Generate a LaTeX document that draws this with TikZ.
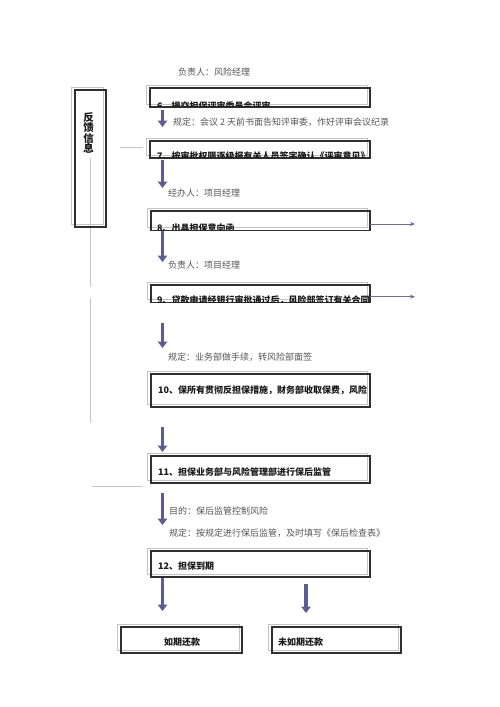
\documentclass[tikz,border=0pt]{standalone}
\usepackage{fontspec}
\setmainfont{Noto Sans CJK SC}
\usetikzlibrary{arrows.meta,calc}
\pgfdeclarelayer{background}
\pgfsetlayers{background,main}
\definecolor{arrowc}{HTML}{5C5C96}
\definecolor{thinc}{HTML}{6A6AA6}
\definecolor{linec}{HTML}{C4C4DC}
\definecolor{lightc}{HTML}{C4C4C4}
\definecolor{boxc}{HTML}{303030}
\definecolor{annc}{HTML}{555555}
\definecolor{txtc}{HTML}{1A1A1A}
\newcommand\lightframe[1]{\draw[lightbox] ([xshift=-4pt,yshift=3pt]#1.south west) rectangle ([xshift=-3pt,yshift=3pt]#1.north east);}
\begin{document}
\begin{tikzpicture}[x=1pt,y=-1pt,
  darkbox/.style={draw=boxc, line width=1.1pt, rectangle, outer sep=0pt, inner sep=0pt},
  lightbox/.style={draw=lightc, line width=0.7pt},
  ann/.style={anchor=west, inner sep=0pt, text=annc, font=\fontsize{9}{10}\selectfont},
  boxtext/.style={anchor=west, inner sep=0pt, text=txtc, font=\bfseries\fontsize{9}{10}\selectfont},
  cliptext/.style={anchor=base west, inner sep=0pt, text=txtc, font=\bfseries\fontsize{9}{10}\selectfont},
  bigarrow/.style={draw=arrowc, line width=3.5pt, -{Triangle[width=9.5pt,length=6.5pt]}},
  thinarrow/.style={draw=thinc, line width=0.8pt, -{Stealth[width=4pt,length=5pt]}},
  feedline/.style={draw=linec, line width=0.7pt}]
\useasboundingbox (0,0) rectangle (500,707);

% column for arrows
\coordinate (colx) at (162.5,0);
\coordinate (colr) at (306,0);

% boxes
\node[darkbox, minimum width=31pt, minimum height=137pt] (fb) at (90.5,158.5) {};
\node[darkbox, minimum width=220pt, minimum height=19pt] (b6) at (260,97.5) {};
\node[darkbox, minimum width=220pt, minimum height=17pt] (b7) at (260,149.5) {};
\node[darkbox, minimum width=219pt, minimum height=19.5pt] (b8) at (260.5,220.75) {};
\node[darkbox, minimum width=219pt, minimum height=17.7pt] (b9) at (260.5,293.85) {};
\node[darkbox, minimum width=219pt, minimum height=33pt] (b10) at (260.5,390.5) {};
\node[darkbox, minimum width=219pt, minimum height=27pt] (b11) at (260.5,469.5) {};
\node[darkbox, minimum width=219pt, minimum height=26pt] (b12) at (260.5,564) {};
\node[darkbox, minimum width=121pt, minimum height=26pt] (b13) at (181.5,640) {};
\node[darkbox, minimum width=129pt, minimum height=26pt] (b14) at (336.5,640) {};

\begin{pgfonlayer}{background}
\fill[white] (0,0) rectangle (500,707);
\lightframe{fb}
\lightframe{b6}
\lightframe{b7}
\lightframe{b8}
\lightframe{b9}
\lightframe{b10}
\lightframe{b11}
\lightframe{b12}
\lightframe{b13}
\lightframe{b14}
% feedback lines
\draw[feedline] (90.7,158) -- (90.7,287);
\draw[feedline] (90.7,298) -- (90.7,423);
\draw[feedline] (120,147) -- (143,147);
\draw[feedline] (92,486) -- (143,486);
\end{pgfonlayer}

% feedback text
\node[inner sep=0pt, align=center, text=txtc, font=\bfseries\fontsize{10.5}{10.5}\selectfont] (t0) at (88.5,133) {反\\馈\\信\\息};

% top annotation
\node[ann] (n0) at (178,72) {负责人：风险经理};

% clipped box texts
\begin{scope}
\clip ([yshift=0.6pt]b6.south west) rectangle (b6.north east);
\node[cliptext] (t6) at (157,109.5) {6、提交担保评审委员会评审};
\end{scope}
\begin{scope}
\clip ([yshift=0.6pt]b7.south west) rectangle (b7.north east);
\node[cliptext] (t7) at (157,159.6) {7、按审批权限逐级报有关人员签字确认《评审意见》};
\end{scope}
\begin{scope}
\clip ([yshift=0.6pt]b8.south west) rectangle (b8.north east);
\node[cliptext] (t8) at (157,231) {8、出具担保意向函};
\end{scope}
\begin{scope}
\clip ([yshift=0.6pt]b9.south west) rectangle (b9.north east);
\node[cliptext] (t9) at (157,303.5) {9、贷款申请经银行审批通过后，风险部签订有关合同};
\end{scope}

\node[boxtext] (t10) at (158,390) {10、保所有贯彻反担保措施，财务部收取保费，风险};
\node[boxtext] (t11) at (158,472) {11、担保业务部与风险管理部进行保后监管};
\node[boxtext] (t12) at (158,566) {12、担保到期};
\node[boxtext, anchor=center] (t13) at (182,642) {如期还款};
\node[boxtext] (t14) at (278,642) {未如期还款};

% annotations
\node[ann] (n1) at (173,122) {规定：会议 2 天前书面告知评审委，作好评审会议纪录};
\node[ann] (n2) at (168,193) {经办人：项目经理};
\node[ann] (n3) at (168,265) {负责人：项目经理};
\node[ann] (n4) at (168,357) {规定：业务部做手续，转风险部面签};
\node[ann] (n5) at (169,511) {目的：保后监管控制风险};
\node[ann] (n6) at (169,533) {规定：按规定进行保后监管，及时填写《保后检查表》};

% big arrows
\draw[bigarrow] ([yshift=-3pt]b6.south -| colx) -- ([yshift=14pt]b7.north -| colx);
\draw[bigarrow] ([yshift=-2pt]b7.south -| colx) -- ([yshift=23pt]b8.north -| colx);
\draw[bigarrow] ([yshift=-0.5pt]b8.south -| colx) -- ([yshift=23pt]b9.north -| colx);
\draw[bigarrow] ([yshift=-20pt]b9.south -| colx) -- ([yshift=26pt]b10.north -| colx);
\draw[bigarrow] ([yshift=-20pt]b10.south -| colx) -- ([yshift=4pt]b11.north -| colx);
\draw[bigarrow] ([yshift=-10pt]b11.south -| colx) -- ([yshift=26pt]b12.north -| colx);
\draw[bigarrow] ([yshift=-1pt]b12.south -| colx) -- ([yshift=16pt]b13.north -| colx);
\draw[bigarrow] ([yshift=-7pt]b12.south -| colr) -- ([yshift=14pt]b14.north -| colr);

% thin arrows to the right
\coordinate (e8) at (415,224);
\coordinate (e9) at (415,296.7);
\draw[thinarrow] (b8.east |- e8) -- (e8);
\draw[thinarrow] (b9.east |- e9) -- (e9);
\end{tikzpicture}
\end{document}
